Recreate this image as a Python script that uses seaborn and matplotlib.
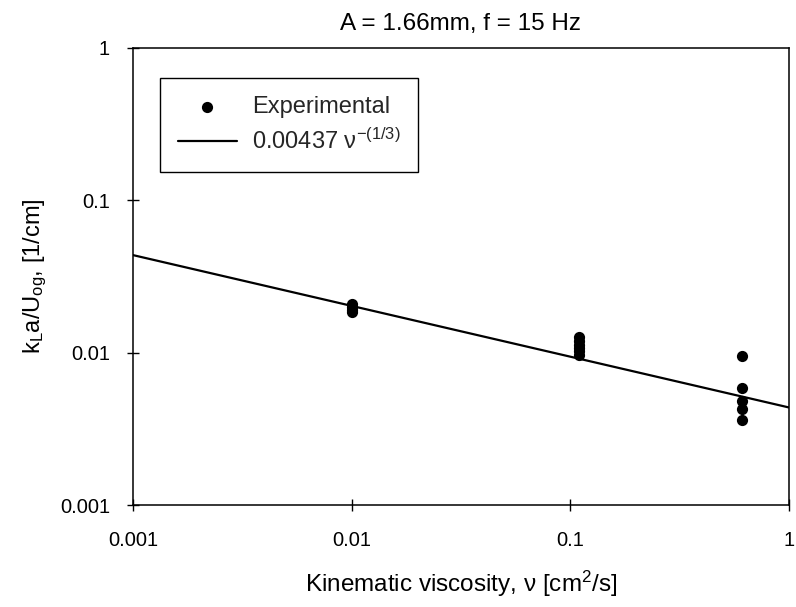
import matplotlib
matplotlib.use("Agg")
import matplotlib.pyplot as plt
import seaborn as sns
import numpy as np
import pandas as pd

# Measured mass-transfer data
viscosity = [0.01, 0.01, 0.01, 0.01,
             0.11, 0.11, 0.11, 0.11, 0.11, 0.11,
             0.61, 0.61, 0.61, 0.61, 0.61]
kla_over_u = [0.0210, 0.0200, 0.0190, 0.0184,
              0.0127, 0.0120, 0.0113, 0.0107, 0.0102, 0.0097,
              0.0095, 0.0059, 0.0048, 0.0043, 0.0036]

# Power-law correlation: coefficient * nu^exponent
coef = 0.00437
exponent = -1.0 / 3.0
fit_range = [0.001, 1.0]

x_ticks = [0.001, 0.01, 0.1, 1]
x_tick_labels = ["0.001", "0.01", "0.1", "1"]
y_ticks = [0.001, 0.01, 0.1, 1]
y_tick_labels = ["0.001", "0.01", "0.1", "1"]

sns.set_theme(style="ticks")
plt.rcParams["font.family"] = ["Liberation Sans", "DejaVu Sans"]
plt.rcParams["mathtext.fontset"] = "custom"
plt.rcParams["mathtext.rm"] = "Liberation Sans"
plt.rcParams["mathtext.it"] = "Liberation Sans"

exp_df = pd.DataFrame({"nu": viscosity, "kla": kla_over_u})
nu_fit = np.array(fit_range)
fit_df = pd.DataFrame({"nu": nu_fit, "kla": coef * nu_fit ** exponent})

fig = plt.figure(figsize=(7.96, 6.07), dpi=100)
ax = fig.add_axes([0.167, 0.168, 0.824, 0.753])

sns.scatterplot(data=exp_df, x="nu", y="kla", ax=ax, color="black",
                s=65, edgecolor="black", linewidth=0, label="Experimental",
                zorder=3)
sns.lineplot(data=fit_df, x="nu", y="kla", ax=ax, color="black",
             linewidth=1.6, label="0.00437 \u03bd$^{-(1/3)}$", zorder=2)

ax.set_xscale("log")
ax.set_yscale("log")
ax.set_xlim(0.001, 1)
ax.set_ylim(0.001, 1)
ax.set_xticks(x_ticks)
ax.set_xticklabels(x_tick_labels)
ax.set_yticks(y_ticks)
ax.set_yticklabels(y_tick_labels)
ax.minorticks_off()
ax.tick_params(axis="both", which="major", direction="inout", length=9,
               width=1, labelsize=14.5, colors="black", pad=12)
ax.tick_params(axis="x", pad=14)

for side in ["left", "bottom", "right", "top"]:
    ax.spines[side].set_visible(True)
    ax.spines[side].set_color("black")
    ax.spines[side].set_linewidth(1.1)

ax.set_xlabel("Kinematic viscosity, \u03bd [cm$^2$/s]", fontsize=17.5,
              labelpad=14, color="black")
ax.set_ylabel("k$_\\mathregular{L}$a/U$_\\mathregular{og}$, [1/cm]",
              fontsize=17, labelpad=8, color="black")
ax.set_title("A = 1.66mm, f = 15 Hz", fontsize=17.5, pad=13, color="black")

leg = ax.legend(loc="upper left", bbox_to_anchor=(0.041, 0.934), fontsize=17,
                frameon=True, fancybox=False, edgecolor="black",
                framealpha=1, borderpad=0.75, borderaxespad=0,
                handlelength=2.5, handletextpad=0.65, labelspacing=0.48)
leg.get_frame().set_linewidth(1.0)

fig.savefig("out.png", dpi=100)
